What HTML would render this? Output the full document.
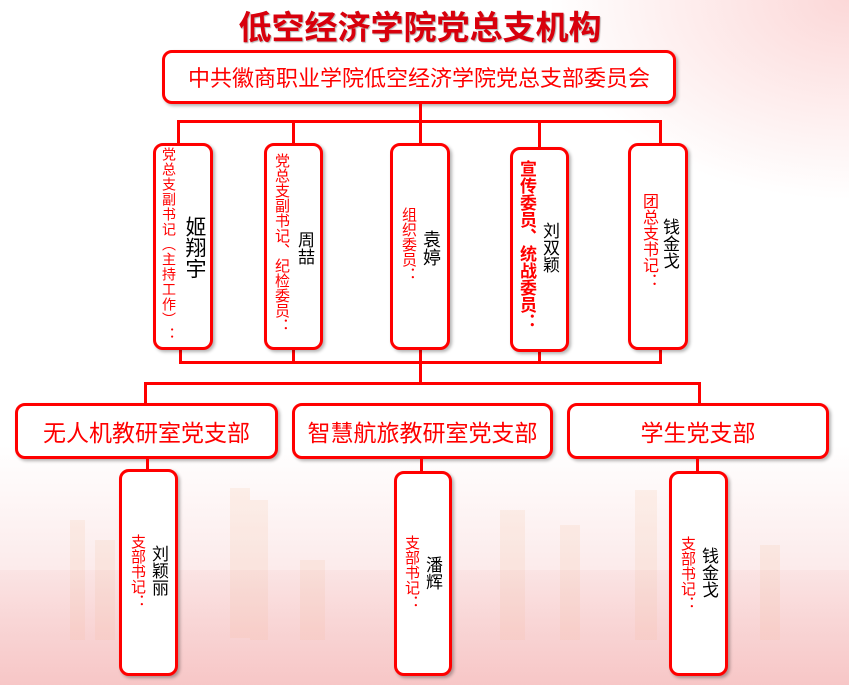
<!DOCTYPE html>
<html><head><meta charset="utf-8"><style>
body{margin:0;width:849px;height:685px;overflow:hidden;position:relative;font-family:"Liberation Sans","Noto Sans CJK SC",sans-serif;
background:radial-gradient(ellipse 300px 200px at 849px 0,rgba(250,190,190,0.6),rgba(255,255,255,0) 100%),linear-gradient(180deg,#fff 0%,#fff 65%,#fcecec 82%,#f9dada 100%);}
.ab{position:absolute}
.box{position:absolute;background:#fff;border:3px solid #f00;border-radius:10px;box-shadow:2px 2px 3px rgba(0,0,0,0.3);box-sizing:border-box}
.ln{position:absolute;background:#f00}
.v{position:absolute;writing-mode:vertical-rl;text-orientation:upright;line-height:1}
.r{color:#f00}
.k{color:#000}
.h{display:flex;align-items:center;justify-content:center;color:#f00;font-size:22px}
.sky{position:absolute;background:rgba(245,200,170,0.2)}
</style></head><body>
<div class="sky" style="left:230px;top:488px;width:20px;height:150px"></div>
<div class="sky" style="left:250px;top:500px;width:18px;height:140px"></div>
<div class="sky" style="left:70px;top:520px;width:15px;height:120px"></div>
<div class="sky" style="left:95px;top:540px;width:20px;height:100px"></div>
<div class="sky" style="left:300px;top:560px;width:25px;height:80px"></div>
<div class="sky" style="left:500px;top:510px;width:25px;height:130px"></div>
<div class="sky" style="left:560px;top:525px;width:20px;height:115px"></div>
<div class="sky" style="left:635px;top:490px;width:22px;height:150px"></div>
<div class="sky" style="left:760px;top:545px;width:20px;height:95px"></div>
<div class="ab" style="left:0;top:570px;width:849px;height:115px;background:linear-gradient(180deg,rgba(240,150,150,0.08),rgba(240,140,140,0.25))"></div>

<div class="ab" style="left:0;top:1px;width:840px;text-align:center;font-size:33px;font-weight:bold;color:#d8000c;text-shadow:1px 1px 1px rgba(0,0,0,0.3)">低空经济学院党总支机构</div>
<div class="box h" style="left:162px;top:50px;width:514px;height:54px">中共徽商职业学院低空经济学院党总支部委员会</div>

<div class="ln" style="left:419px;top:103px;width:3px;height:20px"></div>
<div class="ln" style="left:177px;top:120px;width:485px;height:3px"></div>
<div class="ln" style="left:177px;top:120px;width:3px;height:24px"></div>
<div class="ln" style="left:292px;top:120px;width:3px;height:24px"></div>
<div class="ln" style="left:419px;top:120px;width:3px;height:24px"></div>
<div class="ln" style="left:538px;top:120px;width:3px;height:28px"></div>
<div class="ln" style="left:659px;top:120px;width:3px;height:24px"></div>

<div class="ln" style="left:179px;top:348px;width:3px;height:16px"></div>
<div class="ln" style="left:292px;top:348px;width:3px;height:16px"></div>
<div class="ln" style="left:419px;top:348px;width:3px;height:36px"></div>
<div class="ln" style="left:538px;top:350px;width:3px;height:14px"></div>
<div class="ln" style="left:659px;top:348px;width:3px;height:16px"></div>
<div class="ln" style="left:180px;top:361px;width:482px;height:3px"></div>
<div class="ln" style="left:144px;top:382px;width:557px;height:3px"></div>
<div class="ln" style="left:144px;top:382px;width:3px;height:22px"></div>
<div class="ln" style="left:698px;top:382px;width:3px;height:22px"></div>

<div class="box" style="left:153px;top:143px;width:60px;height:207px"></div>
<div class="v r" style="left:162px;top:147px;font-size:14px;letter-spacing:1px">党总支副书记（主持工作）：</div>
<div class="v k" style="left:184px;top:216px;font-size:21px">姬翔宇</div>

<div class="box" style="left:264px;top:143px;width:59px;height:207px"></div>
<div class="v r" style="left:274px;top:153px;font-size:15px">党总支副书记、纪检委员：</div>
<div class="v k" style="left:296px;top:231px;font-size:17px">周喆</div>

<div class="box" style="left:390px;top:143px;width:60px;height:207px"></div>
<div class="v r" style="left:401px;top:207px;font-size:15px">组织委员：</div>
<div class="v k" style="left:422px;top:230px;font-size:18px">袁婷</div>

<div class="box" style="left:510px;top:147px;width:59px;height:205px"></div>
<div class="v r" style="left:518px;top:160px;font-size:17px;font-weight:bold">宣传委员、统战委员：</div>
<div class="v k" style="left:541px;top:222px;font-size:17px">刘双颖</div>

<div class="box" style="left:628px;top:143px;width:60px;height:207px"></div>
<div class="v r" style="left:640px;top:193px;font-size:16px">团总支书记：</div>
<div class="v k" style="left:661px;top:218px;font-size:17px">钱金戈</div>

<div class="box h" style="left:15px;top:403px;width:263px;height:56px;font-size:23px">无人机教研室党支部</div>
<div class="box h" style="left:292px;top:403px;width:261px;height:56px;font-size:23px">智慧航旅教研室党支部</div>
<div class="box h" style="left:567px;top:403px;width:262px;height:56px;font-size:23px">学生党支部</div>

<div class="ln" style="left:146px;top:458px;width:3px;height:14px"></div>
<div class="ln" style="left:420px;top:458px;width:3px;height:14px"></div>
<div class="ln" style="left:696px;top:458px;width:3px;height:14px"></div>

<div class="box" style="left:119px;top:469px;width:59px;height:207px"></div>
<div class="v r" style="left:130px;top:534px;font-size:15px">支部书记：</div>
<div class="v k" style="left:150px;top:545px;font-size:17px">刘颖丽</div>

<div class="box" style="left:394px;top:471px;width:58px;height:205px"></div>
<div class="v r" style="left:404px;top:535px;font-size:15px">支部书记：</div>
<div class="v k" style="left:424px;top:556px;font-size:17px">潘辉</div>

<div class="box" style="left:669px;top:471px;width:59px;height:205px"></div>
<div class="v r" style="left:680px;top:536px;font-size:15px">支部书记：</div>
<div class="v k" style="left:700px;top:547px;font-size:17px">钱金戈</div>
</body></html>
